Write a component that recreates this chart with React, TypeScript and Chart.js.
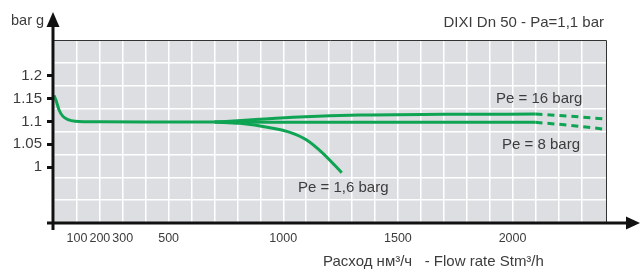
import React, { useEffect, useRef } from "react";
import { Chart, registerables } from "chart.js";

Chart.register(...registerables);

// ---- data ----
const flowCommon = [0, 9, 22, 39, 61, 92, 200, 400, 600, 700];
const pCommon = [1.157, 1.146, 1.125, 1.111, 1.104, 1.1005, 1.099, 1.0985, 1.0985, 1.0985];

const flow16 = [700, 850, 1070, 1335, 1700, 2100];
const p16 = [1.0985, 1.103, 1.1095, 1.114, 1.1155, 1.116];
const flow16Dash = [2100, 2250, 2400];
const p16Dash = [1.116, 1.1115, 1.1055];

const flow8 = [700, 1400, 2100];
const p8 = [1.0985, 1.098, 1.098];
const flow8Dash = [2100, 2250, 2400];
const p8Dash = [1.098, 1.0915, 1.083];

const flow16b = [700, 811, 942, 1029, 1102, 1173, 1255];
const p16b = [1.0985, 1.0958, 1.0862, 1.0761, 1.0592, 1.03, 0.9875];

const xTickLabels = [100, 200, 300, 500, 1000, 1500, 2000];
const yTickLabels = [1, 1.05, 1.1, 1.15, 1.2];

const titleText = "DIXI Dn 50 - Pa=1,1 bar";
const yAxisTitle = "bar g";
const xAxisTitle = "Расход нм³/ч   - Flow rate Stm³/h";
const curveLabels = ["Pe = 16 barg", "Pe = 8 barg", "Pe = 1,6 barg"];

const GREEN = "#0fa453";
const TEXT = "#3c3c3c";
const FONT = "'Liberation Sans', Arial, sans-serif";

const pts = (xs: number[], ys: number[]) => xs.map((x, i) => ({ x, y: ys[i] }));

const lineDs = (data: any[], dashed = false) => ({
  data,
  borderColor: GREEN,
  borderWidth: 3,
  pointRadius: 0,
  fill: false,
  cubicInterpolationMode: "monotone" as const,
  borderDash: dashed ? [7, 5] : [],
  borderCapStyle: "butt" as const,
});

const decor = {
  id: "decor",
  beforeDraw(chart: any) {
    const { ctx, chartArea: a } = chart;
    ctx.save();
    ctx.fillStyle = "#dcdee2";
    ctx.fillRect(a.left, a.top, a.right - a.left, a.bottom - a.top);
    ctx.restore();
  },
  afterDraw(chart: any) {
    const { ctx, chartArea: a } = chart;
    ctx.save();
    // thin frame top / right
    ctx.strokeStyle = "#333";
    ctx.lineWidth = 1;
    ctx.beginPath();
    ctx.moveTo(a.left, a.top + 0.5);
    ctx.lineTo(a.right - 0.5, a.top + 0.5);
    ctx.lineTo(a.right - 0.5, a.bottom);
    ctx.stroke();
    // thick axes
    ctx.strokeStyle = "#111";
    ctx.lineWidth = 3;
    ctx.beginPath();
    ctx.moveTo(a.left - 1, 26);
    ctx.lineTo(a.left - 1, a.bottom + 7);
    ctx.moveTo(a.left - 7, a.bottom);
    ctx.lineTo(628, a.bottom);
    ctx.stroke();
    ctx.fillStyle = "#111";
    // y arrow
    ctx.beginPath();
    ctx.moveTo(a.left - 1, 12);
    ctx.lineTo(a.left - 7.5, 27);
    ctx.lineTo(a.left + 5.5, 27);
    ctx.closePath();
    ctx.fill();
    // x arrow
    ctx.beginPath();
    ctx.moveTo(640, a.bottom);
    ctx.lineTo(626, a.bottom - 6.5);
    ctx.lineTo(626, a.bottom + 6.5);
    ctx.closePath();
    ctx.fill();

    ctx.fillStyle = TEXT;
    ctx.textBaseline = "alphabetic";
    ctx.font = `14.5px ${FONT}`;
    ctx.textAlign = "left";
    ctx.fillText(yAxisTitle, 11, 25);
    ctx.font = `15px ${FONT}`;
    ctx.textAlign = "right";
    ctx.fillText(titleText, 604, 27);
    ctx.textAlign = "left";
    ctx.fillText(curveLabels[0], 496, 103);
    ctx.fillText(curveLabels[1], 502, 149);
    ctx.fillText(curveLabels[2], 298, 192);
    ctx.fillText(xAxisTitle, 323, 266);
    ctx.restore();
  },
};

export default function App() {
  const ref = useRef<HTMLCanvasElement>(null);
  useEffect(() => {
    if (!ref.current) return;
    const chart = new Chart(ref.current, {
      type: "line",
      data: {
        datasets: [
          lineDs(pts(flowCommon, pCommon)),
          lineDs(pts(flow16, p16)),
          lineDs(pts(flow16Dash, p16Dash), true),
          lineDs(pts(flow8, p8)),
          lineDs(pts(flow8Dash, p8Dash), true),
          lineDs(pts(flow16b, p16b)),
        ],
      },
      options: {
        animation: false,
        responsive: false,
        events: [],
        layout: { padding: { left: 0, top: 40, right: 33, bottom: 0 } },
        plugins: { legend: { display: false }, tooltip: { enabled: false } },
        scales: {
          x: {
            type: "linear",
            min: 0,
            max: 2412,
            border: { display: false },
            grid: { color: "#ffffff", lineWidth: 1.5, drawTicks: false },
            ticks: {
              stepSize: 100,
              autoSkip: false,
              maxRotation: 0,
              padding: 8,
              color: TEXT,
              font: { family: FONT, size: 12.5 },
              callback: (v: any) => (xTickLabels.includes(Number(v)) ? String(v) : ""),
            },
            afterFit: (s: any) => {
              s.height = 46;
            },
          },
          y: {
            type: "linear",
            position: "left",
            min: 0.8772,
            max: 1.2785,
            border: { display: false },
            grid: {
              drawOnChartArea: false,
              drawTicks: true,
              tickLength: 7,
              tickColor: "#111",
              tickWidth: 3,
            },
            afterBuildTicks: (s: any) => {
              s.ticks = yTickLabels.map((v) => ({ value: v }));
            },
            ticks: {
              padding: 5,
              color: TEXT,
              font: { family: FONT, size: 15 },
              callback: (v: any) => String(v),
            },
            afterFit: (s: any) => {
              s.width = 54;
            },
          },
          yg: {
            type: "linear",
            position: "left",
            min: 0,
            max: 8,
            border: { display: false },
            grid: { color: "#ffffff", lineWidth: 1.5, drawTicks: false },
            ticks: { display: false, stepSize: 1 },
            afterFit: (s: any) => {
              s.width = 0;
            },
          },
        },
      },
      plugins: [decor],
    });
    return () => chart.destroy();
  }, []);
  return (
    <div style={{ position: "absolute", left: 0, top: 0, width: 640, height: 269, background: "#fff" }}>
      <canvas ref={ref} width={640} height={269} />
    </div>
  );
}
